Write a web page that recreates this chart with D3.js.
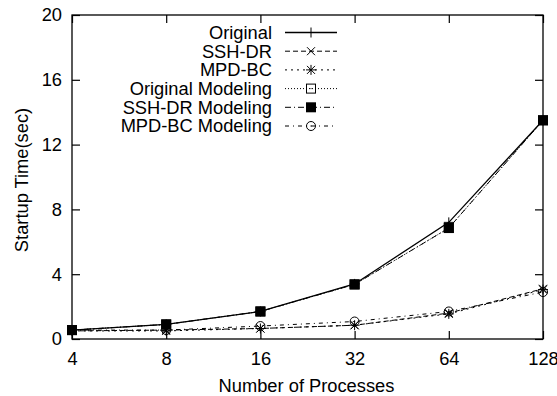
<!DOCTYPE html>
<html><head><meta charset="utf-8">
<script src="https://cdn.jsdelivr.net/npm/d3@7"></script>
<style>
body{margin:0;background:#fff;}
text{font-family:"Liberation Sans",Arial,Helvetica,sans-serif;fill:#000;}
</style></head>
<body><svg id="c" width="557" height="396"></svg>
<script>
const procs = [4, 8, 16, 32, 64, 128];
const yTicks = [0, 4, 8, 12, 16, 20];
const seriesNames = ["Original", "SSH-DR", "MPD-BC", "Original Modeling", "SSH-DR Modeling", "MPD-BC Modeling"];
const original        = [0.55, 0.9, 1.7, 3.4, 7.2, 13.5];
const sshDR           = [0.5, 0.55, 0.65, 0.85, 1.6, 3.1];
const mpdBC           = [0.5, 0.5, 0.65, 0.85, 1.55, 3.05];
const originalModel   = [0.55, 0.9, 1.7, 3.37, 6.85, 13.5];
const sshDRModel      = [0.55, 0.9, 1.7, 3.37, 6.85, 13.5];
const mpdBCModel      = [0.55, 0.55, 0.8, 1.08, 1.7, 2.9];
const allValues = [original, sshDR, mpdBC, originalModel, sshDRModel, mpdBCModel];
const dashes = [null, "5,3", "2,4", "1,2", "6,3,1,3", "4,4,1,4"];
const markers = ["plus", "cross", "star", "sqOpen", "sqFill", "circle"];

const svg = d3.select("#c");
const L = 72, R = 543, T = 15, B = 339;
const x = d3.scaleLog().base(2).domain([4, 128]).range([L, R]);
const y = d3.scaleLinear().domain([0, 20]).range([B, T]);
const fs = "18.3px";

// frame
svg.append("rect").attr("x", L).attr("y", T).attr("width", R - L).attr("height", B - T)
  .attr("fill", "none").attr("stroke", "#000").attr("stroke-width", 1.3);

// axes with inward ticks
const tk = 8;
const xb = svg.append("g").attr("transform", `translate(0,${B})`)
  .call(d3.axisBottom(x).tickValues(procs).tickFormat(d3.format("d")).tickSizeInner(-tk).tickSizeOuter(0).tickPadding(13));
const xt = svg.append("g").attr("transform", `translate(0,${T})`)
  .call(d3.axisTop(x).tickValues(procs).tickFormat("").tickSizeInner(-tk).tickSizeOuter(0));
const yl = svg.append("g").attr("transform", `translate(${L},0)`)
  .call(d3.axisLeft(y).tickValues(yTicks).tickSizeInner(-tk).tickSizeOuter(0).tickPadding(10));
const yr = svg.append("g").attr("transform", `translate(${R},0)`)
  .call(d3.axisRight(y).tickValues(yTicks).tickFormat("").tickSizeInner(-tk).tickSizeOuter(0));
[xb, xt, yl, yr].forEach(g => {
  g.select(".domain").remove();
  g.selectAll("line").attr("stroke", "#000").attr("stroke-width", 1.2);
  g.selectAll("text").style("font-size", fs).style("font-family", '"Liberation Sans",Arial,sans-serif').attr("fill", "#000");
});

// axis titles
svg.append("text").attr("x", (L + R) / 2 - 1).attr("y", 392).attr("text-anchor", "middle")
  .style("font-size", fs).text("Number of Processes");
svg.append("text").attr("transform", `translate(28,${(T + B) / 2 + 3}) rotate(-90)`).attr("text-anchor", "middle")
  .style("font-size", fs).text("Startup Time(sec)");

function drawMarker(g, type, cx, cy) {
  const s = 5;
  if (type === "plus") {
    g.append("path").attr("d", `M${cx - s},${cy}H${cx + s}M${cx},${cy - s}V${cy + s}`).attr("stroke", "#000").attr("stroke-width", 1).attr("fill", "none");
  } else if (type === "cross") {
    const a = 4;
    g.append("path").attr("d", `M${cx - a},${cy - a}L${cx + a},${cy + a}M${cx - a},${cy + a}L${cx + a},${cy - a}`).attr("stroke", "#000").attr("stroke-width", 1).attr("fill", "none");
  } else if (type === "star") {
    const a = 4;
    g.append("path").attr("d", `M${cx - a},${cy - a}L${cx + a},${cy + a}M${cx - a},${cy + a}L${cx + a},${cy - a}M${cx - s},${cy}H${cx + s}M${cx},${cy - s}V${cy + s}`).attr("stroke", "#000").attr("stroke-width", 1).attr("fill", "none");
  } else if (type === "sqOpen") {
    g.append("rect").attr("x", cx - 4.5).attr("y", cy - 4.5).attr("width", 9).attr("height", 9).attr("fill", "none").attr("stroke", "#000").attr("stroke-width", 1);
    g.append("rect").attr("x", cx - 0.5).attr("y", cy - 0.5).attr("width", 1).attr("height", 1).attr("fill", "#000");
  } else if (type === "sqFill") {
    g.append("rect").attr("x", cx - 5).attr("y", cy - 5).attr("width", 10).attr("height", 10).attr("fill", "#000");
  } else if (type === "circle") {
    g.append("circle").attr("cx", cx).attr("cy", cy).attr("r", 4.5).attr("fill", "none").attr("stroke", "#000").attr("stroke-width", 1);
    g.append("rect").attr("x", cx - 0.5).attr("y", cy - 0.5).attr("width", 1).attr("height", 1).attr("fill", "#000");
  }
}

const line = d3.line().x((d, i) => x(procs[i])).y(d => y(d));
const legX1 = 285, legX2 = 337, legTextX = 272, legY0 = 32.5, legDy = 18.7;

seriesNames.forEach((name, k) => {
  const g = svg.append("g");
  g.append("path").datum(allValues[k]).attr("d", line).attr("fill", "none")
    .attr("stroke", "#000").attr("stroke-width", k === 0 ? 1.3 : 1)
    .attr("stroke-dasharray", dashes[k]);
  allValues[k].forEach((v, i) => drawMarker(g, markers[k], x(procs[i]), y(v)));
  // legend
  const ly = legY0 + k * legDy;
  svg.append("text").attr("x", legTextX).attr("y", ly).attr("dy", "0.35em").attr("text-anchor", "end")
    .style("font-size", fs).text(name);
  svg.append("line").attr("x1", legX1).attr("x2", legX2).attr("y1", ly).attr("y2", ly)
    .attr("stroke", "#000").attr("stroke-width", k === 0 ? 1.3 : 1).attr("stroke-dasharray", dashes[k]);
  drawMarker(svg.append("g"), markers[k], (legX1 + legX2) / 2, ly);
});
</script></body></html>
